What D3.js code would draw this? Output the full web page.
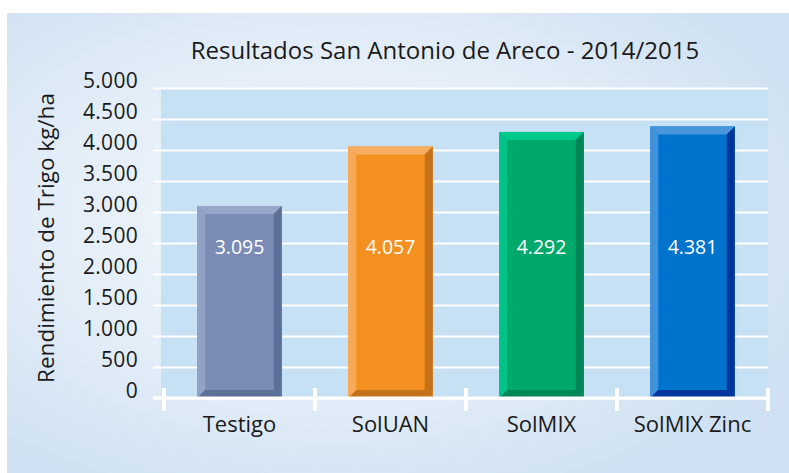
<!DOCTYPE html>
<html lang="es">
<head>
<meta charset="UTF-8">
<title>Resultados San Antonio de Areco</title>
<script src="https://d3js.org/d3.v7.min.js"></script>
<style>
  body { margin: 0; background: #fff; }
  svg { display: block; font-family: "Open Sans", "Noto Sans", sans-serif; }
</style>
</head>
<body>
<div id="chart"></div>
<script>
const categories = ["Testigo", "SolUAN", "SolMIX", "SolMIX Zinc"];
const values = [3095, 4057, 4292, 4381];
const valueLabels = ["3.095", "4.057", "4.292", "4.381"];
const yTicks = [0, 500, 1000, 1500, 2000, 2500, 3000, 3500, 4000, 4500, 5000];
// face, light (left/top), dark (right/bottom)
const barColors = [
  ["#7a8bb5", "#97a5c9", "#5b6f98"],
  ["#f39020", "#f8ae62", "#c4721a"],
  ["#00a86a", "#00c98c", "#008657"],
  ["#0073cc", "#4a96da", "#00369c"]
];

const W = 789, H = 473;
const margin = {top: 88, left: 164, right: 21, bottom: 75};
const svg = d3.select('#chart').append('svg').attr('width', W).attr('height', H);

const defs = svg.append('defs');
const grad = defs.append('radialGradient').attr('id', 'bg')
  .attr('cx', '42%').attr('cy', '45%').attr('r', '65%');
grad.append('stop').attr('offset', '0%').attr('stop-color', '#f4f8fc');
grad.append('stop').attr('offset', '55%').attr('stop-color', '#e4eef8');
grad.append('stop').attr('offset', '100%').attr('stop-color', '#cfe1f2');

svg.append('rect').attr('x', 7).attr('y', 13).attr('width', W - 7).attr('height', H - 13)
  .attr('fill', 'url(#bg)');

const x = d3.scaleBand().domain(categories)
  .range([margin.left, W - margin.right]).paddingInner(0.44).paddingOuter(0.22);
const y = d3.scaleLinear().domain([0, 5000]).range([H - margin.bottom, margin.top]);

// plot background
svg.append('rect').attr('x', 161).attr('y', y(5000))
  .attr('width', W - margin.right - 161).attr('height', y(0) - y(5000))
  .attr('fill', '#c7e1f4');

// gridlines + y axis
const yAxis = svg.append('g').attr('transform', `translate(153,0)`)
  .call(d3.axisRight(y).tickValues(yTicks).tickSize(W - margin.right - 153).tickFormat(''));
yAxis.select('.domain').remove();
yAxis.selectAll('line').attr('stroke', '#fff').attr('stroke-width', 2);

svg.append('g').selectAll('text').data(yTicks).join('text')
  .attr('x', 138).attr('y', d => y(d) - 6)
  .attr('text-anchor', 'end').attr('dominant-baseline', 'middle')
  .attr('font-size', 21).attr('letter-spacing', 0.3).attr('fill', '#1a1a1a')
  .text(d => d === 0 ? '0' : d3.format(',')(d).replace(',', '.'));

svg.append('text')
  .attr('transform', `translate(54,${(y(0) + y(5000)) / 2 - 5}) rotate(-90)`)
  .attr('text-anchor', 'middle').attr('font-size', 22.5).attr('fill', '#1a1a1a')
  .text('Rendimiento de Trigo kg/ha');

// title
svg.append('text').attr('x', 445).attr('y', 59).attr('text-anchor', 'middle')
  .attr('font-size', 24).attr('fill', '#1a1a1a')
  .text('Resultados San Antonio de Areco - 2014/2015');

// bars with bevel
const b = 8;
const bars = svg.append('g').selectAll('g').data(categories).join('g');
bars.each(function(c, i) {
  const g = d3.select(this);
  const x0 = x(c), x1 = x(c) + x.bandwidth();
  const y0 = y(values[i]), y1 = y(0);
  const [face, light, dark] = barColors[i];
  g.append('rect').attr('x', x0).attr('y', y0).attr('width', x1 - x0).attr('height', y1 - y0).attr('fill', face);
  g.append('path').attr('fill', light)
    .attr('d', `M${x0},${y0}L${x1},${y0}L${x1 - b},${y0 + b}L${x0 + b},${y0 + b}Z`);
  g.append('path').attr('fill', light).attr('opacity', 0.85)
    .attr('d', `M${x0},${y0}L${x0 + b},${y0 + b}L${x0 + b},${y1 - b}L${x0},${y1}Z`);
  g.append('path').attr('fill', dark)
    .attr('d', `M${x1},${y0}L${x1},${y1}L${x1 - b},${y1 - b}L${x1 - b},${y0 + b}Z`);
  g.append('path').attr('fill', dark)
    .attr('d', `M${x0},${y1}L${x1},${y1}L${x1 - b},${y1 - b}L${x0 + b},${y1 - b}Z`);
  g.append('text').attr('x', (x0 + x1) / 2).attr('y', y(2500) + 11)
    .attr('text-anchor', 'middle').attr('font-size', 19.5).attr('fill', '#fff')
    .text(valueLabels[i]);
});

// x axis
const xAxis = svg.append('g').attr('transform', `translate(0,${y(0)})`);
xAxis.append('line').attr('x1', 153).attr('x2', W - margin.right)
  .attr('stroke', '#fff').attr('stroke-width', 3);
const bounds = [margin.left].concat(categories.map(c => x(c) + x.bandwidth() + x.step() * x.paddingInner() / 2));
bounds[bounds.length - 1] = W - margin.right;
xAxis.selectAll('.tk').data(bounds).join('line').attr('class', 'tk')
  .attr('x1', d => d).attr('x2', d => d).attr('y1', -10).attr('y2', 13)
  .attr('stroke', '#fff').attr('stroke-width', 4);
xAxis.selectAll('text').data(categories).join('text')
  .attr('x', d => x(d) + x.bandwidth() / 2).attr('y', 34)
  .attr('text-anchor', 'middle').attr('font-size', 22).attr('fill', '#1a1a1a')
  .text(d => d);
</script>
</body>
</html>
